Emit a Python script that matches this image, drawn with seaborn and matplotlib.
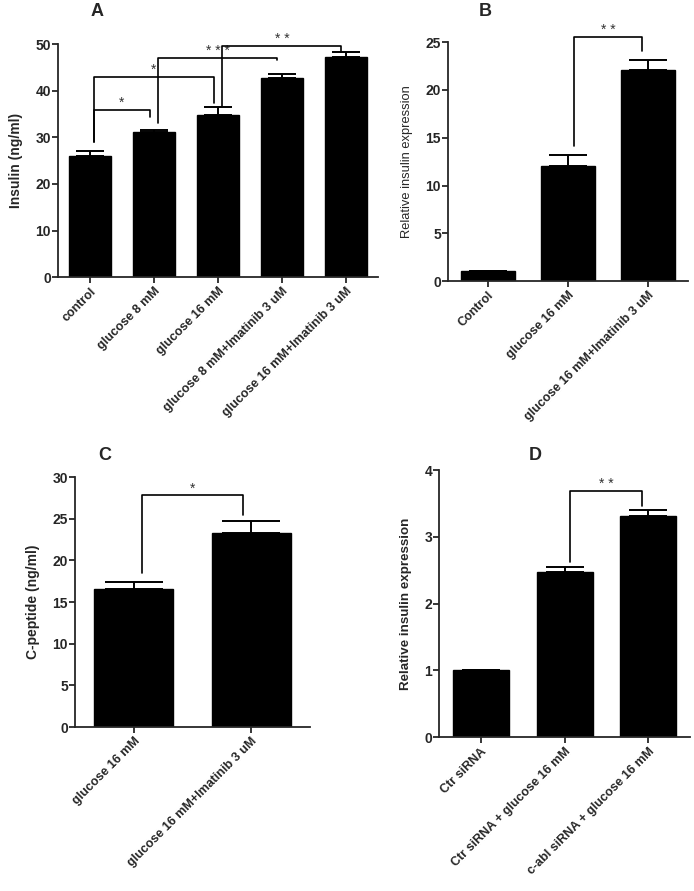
import numpy as np
import matplotlib
matplotlib.use("Agg")
import matplotlib.pyplot as plt
import seaborn as sns

# panel A - insulin secretion
a_labels = ["control", "glucose 8 mM", "glucose 16 mM",
            "glucose 8 mM+Imatinib 3 uM", "glucose 16 mM+Imatinib 3 uM"]
a_means = [26.0, 31.1, 34.8, 42.8, 47.2]
a_err = [1.1, 0.5, 1.6, 0.8, 1.0]
# (left bar, right bar, bracket top, left leg end, right leg end, stars)
a_brackets = [(0, 1, 35.8, 29.0, 34.4, "*"),
              (0, 2, 43.0, 29.0, 37.3, "*"),
              (1, 3, 47.0, 33.0, 46.5, "* * *"),
              (2, 4, 49.7, 36.7, 48.4, "* *")]

# panel B - relative insulin expression
b_labels = ["Control", "glucose 16 mM", "glucose 16 mM+Imatinib 3 uM"]
b_means = [1.0, 12.05, 22.1]
b_err = [0.0, 1.1, 1.05]
b_brackets = [(1, 2, 25.5, 14.1, 24.1, "* *")]

# panel C - C-peptide
c_labels = ["glucose 16 mM", "glucose 16 mM+Imatinib 3 uM"]
c_means = [16.6, 23.3]
c_err = [0.85, 1.4]
c_brackets = [(0, 1, 27.8, 18.5, 25.4, "*")]

# panel D - siRNA
d_labels = ["Ctr siRNA", "Ctr siRNA + glucose 16 mM", "c-abl siRNA + glucose 16 mM"]
d_means = [1.0, 2.475, 3.31]
d_err = [0.0, 0.075, 0.09]
d_brackets = [(1, 2, 3.685, 2.625, 3.46, "* *")]

sns.set_style("ticks")
plt.rcParams['font.family'] = ['Liberation Sans', 'DejaVu Sans']
plt.rcParams['axes.linewidth'] = 1.3
plt.rcParams['xtick.major.width'] = 1.3
plt.rcParams['ytick.major.width'] = 1.3
plt.rcParams['xtick.major.size'] = 4
plt.rcParams['ytick.major.size'] = 4

fig = plt.figure(figsize=(6.94, 8.91), dpi=100)


def panel(rect, labels, means, err, brackets, ymax, step, ylabel, letter,
          letter_xy, capsize, ylab_bold=True, ylab_size=10):
    ax = fig.add_axes(rect)
    sns.barplot(x=labels, y=means, order=labels, color="black", saturation=1,
                width=0.67, edgecolor="black", linewidth=1, ax=ax)
    x = np.arange(len(labels))
    lower = np.zeros(len(labels))
    ax.errorbar(x, means, yerr=[lower, err], fmt="none", ecolor="black",
                elinewidth=1.4, capsize=capsize, capthick=1.4, zorder=5)
    ax.set_xlim(-0.5, len(labels) - 0.5)
    ax.set_ylim(0, ymax)
    ax.set_yticks(np.arange(0, ymax + step / 2, step))
    sns.despine(ax=ax)
    ax.tick_params(axis="y", labelsize=10, pad=1)
    ax.tick_params(axis="x", labelsize=9, pad=2)
    for t in ax.get_yticklabels():
        t.set_fontweight("bold")
    ax.set_xticks(x)
    ax.set_xticklabels(labels, rotation=45, ha="right", rotation_mode="anchor",
                       fontweight="bold")
    ax.set_ylabel(ylabel, fontsize=ylab_size, labelpad=9,
                  fontweight="bold" if ylab_bold else "normal")
    fig.text(letter_xy[0] / 694, 1 - letter_xy[1] / 891, letter, fontsize=13,
             fontweight="bold", ha="center", va="center")
    for i, j, top, lbot, rbot, stars in brackets:
        xl, xr = i + 0.07, j - 0.07
        ax.plot([xl, xl, xr, xr], [lbot, top, top, rbot], color="black",
                lw=1.2, clip_on=False, zorder=6)
        ax.text((xl + xr) / 2, top, stars, ha="center", va="bottom",
                fontsize=10, color="#333333", clip_on=False)
    return ax


panel([0.0836, 0.689, 0.461, 0.2615], a_labels, a_means, a_err, a_brackets,
      50, 10, "Insulin (ng/ml)", "A", (97, 12), 10)
panel([0.6455, 0.6846, 0.3458, 0.268], b_labels, b_means, b_err, b_brackets,
      25, 5, "Relative insulin expression", "B", (485, 12), 13.5,
      ylab_bold=False, ylab_size=9.3)
panel([0.108, 0.184, 0.3386, 0.2806], c_labels, c_means, c_err, c_brackets,
      30, 5, "C-peptide (ng/ml)", "C", (105, 455), 21)
panel([0.6326, 0.1728, 0.3617, 0.2997], d_labels, d_means, d_err, d_brackets,
      4, 1, "Relative insulin expression", "D", (535, 455), 13.5, ylab_size=9.6)

fig.savefig("out.png", dpi=100)
